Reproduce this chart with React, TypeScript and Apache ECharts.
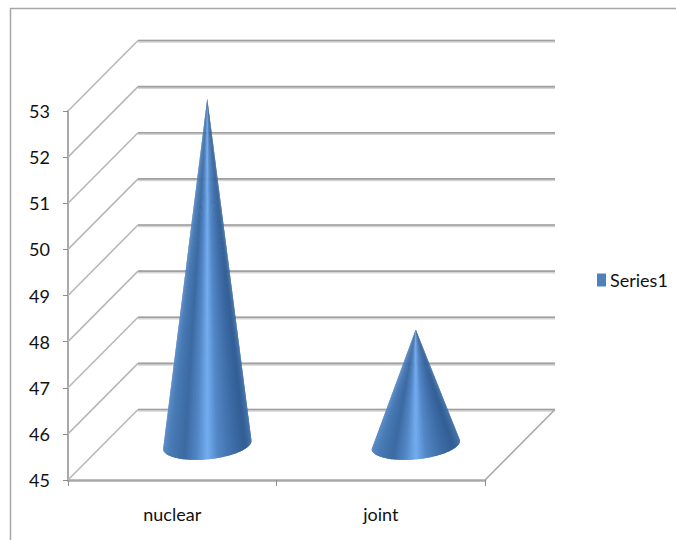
import React, { useEffect, useRef } from "react";
import * as echarts from "echarts";

const categories = ["nuclear", "joint"];
const seriesName = "Series1";
const seriesValues = [52.5, 47.5];
const gridValues = [45, 46, 47, 48, 49, 50, 51, 52, 53];

const DEPTH_X = 70;
const DEPTH_Y = -70.5;
const FONT = "Lato, 'Liberation Sans', sans-serif";
const SHADE: [number, number[]][] = [
  [0, [88, 138, 198]],
  [0.08, [72, 122, 180]],
  [0.24, [60, 106, 162]],
  [0.38, [82, 134, 198]],
  [0.5, [116, 174, 240]],
  [0.62, [82, 134, 198]],
  [0.8, [62, 108, 166]],
  [0.93, [50, 94, 148]],
  [1, [66, 112, 168]],
];

function shade(u: number): string {
  for (let i = 1; i < SHADE.length; i++) {
    if (u <= SHADE[i][0]) {
      const [a, ca] = SHADE[i - 1];
      const [b, cb] = SHADE[i];
      const k = (u - a) / (b - a);
      const c = ca.map((v, j) => Math.round(v + (cb[j] - v) * k));
      return `rgb(${c[0]},${c[1]},${c[2]})`;
    }
  }
  return "rgb(66,112,168)";
}

function renderGrid(params: any, api: any) {
  const v = api.value(1);
  const cs = params.coordSys;
  const p = api.coord([0, v]);
  const left = cs.x;
  const right = cs.x + cs.width;
  const y = p[1];
  const line = (x1: number, y1: number, x2: number, y2: number, stroke: string, w: number) => ({
    type: "line",
    shape: { x1, y1, x2, y2 },
    style: { stroke, lineWidth: w, fill: "none" },
    silent: true,
  });
  const children: any[] = [
    line(left + DEPTH_X, y + DEPTH_Y + 0.8, right + DEPTH_X, y + DEPTH_Y + 0.8, "#d4d4d4", 3),
    line(left + DEPTH_X, y + DEPTH_Y, right + DEPTH_X, y + DEPTH_Y, "#a0a0a0", 1.6),
    line(left, y, left + DEPTH_X, y + DEPTH_Y, "#b8b8b8", 1.6),
  ];
  if (v === gridValues[0]) {
    children.push(line(right, y, right + DEPTH_X, y + DEPTH_Y, "#a8a8a8", 1.6));
  }
  return { type: "group", children };
}

function renderCone(_params: any, api: any) {
  const idx = api.value(0);
  const val = api.value(1);
  const base = api.coord([idx, gridValues[0]]);
  const top = api.coord([idx, val]);
  const band = api.size([1, 0])[0];
  const cx = base[0] + DEPTH_X / 2;
  const cy = base[1] + DEPTH_Y / 2;
  const apex = [top[0] + DEPTH_X / 2, top[1] + DEPTH_Y / 2];
  const a = band * 0.213;
  const b = 14.5;
  const tilt = (-5.8 * Math.PI) / 180;
  const n = 72;
  const pts: number[][] = [];
  for (let i = 0; i <= n; i++) {
    const th = Math.PI - (Math.PI * i) / n;
    const ex = a * Math.cos(th);
    const ey = b * Math.sin(th);
    pts.push([cx + ex * Math.cos(tilt) - ey * Math.sin(tilt), cy + ex * Math.sin(tilt) + ey * Math.cos(tilt)]);
  }
  const x0 = pts[0][0];
  const x1 = pts[n][0];
  const children: any[] = [];
  for (let i = 0; i < n; i++) {
    const col = shade(((pts[i][0] + pts[i + 1][0]) / 2 - x0) / (x1 - x0));
    // each wedge overlaps the next two, painted left to right, so no seams show
    const tail = pts.slice(i, Math.min(i + 3, n + 1));
    children.push({
      type: "polygon",
      shape: { points: [apex, ...tail] },
      style: { fill: col },
      silent: true,
    });
  }
  return { type: "group", children };
}

export default function App() {
  const ref = useRef<HTMLDivElement>(null);
  useEffect(() => {
    const chart = echarts.init(ref.current!, undefined, { renderer: "svg" });
    chart.setOption({
      animation: false,
      backgroundColor: "#ffffff",
      textStyle: { fontFamily: FONT },
      grid: { left: 68, right: 191, top: 111, bottom: 60, containLabel: false },
      xAxis: {
        type: "category",
        data: categories,
        boundaryGap: true,
        axisLine: { lineStyle: { color: "#a8a8a8", width: 2.5 } },
        axisTick: { show: true, length: 6, alignWithLabel: false, lineStyle: { color: "#8c8c8c", width: 1 } },
        axisLabel: { color: "#111111", fontFamily: FONT, fontSize: 18, margin: 25 },
      },
      yAxis: {
        type: "value",
        min: 45,
        max: 53,
        interval: 1,
        splitLine: { show: false },
        axisLine: { show: true, lineStyle: { color: "#a8a8a8", width: 2 } },
        axisTick: { show: true, length: 5, lineStyle: { color: "#8c8c8c", width: 1 } },
        axisLabel: { color: "#111111", fontFamily: FONT, fontSize: 18, margin: 18, padding: [4, 0, 0, 0] },
      },
      legend: {
        data: [seriesName],
        left: 597,
        top: 271,
        icon: "rect",
        itemWidth: 9,
        itemHeight: 13,
        itemGap: 0,
        padding: 0,
        textStyle: { color: "#111111", fontFamily: FONT, fontSize: 18, padding: [0, 0, 0, -1] },
      },
      graphic: [
        {
          type: "polyline",
          silent: true,
          shape: { points: [[10.5, 540], [10.5, 8.5], [676, 8.5]] },
          style: { stroke: "#a6a6a6", lineWidth: 1.5, fill: "none" },
        },
      ],
      series: [
        {
          type: "custom",
          name: "walls",
          renderItem: renderGrid,
          clip: false,
          z: 1,
          silent: true,
          encode: { x: 0, y: 1 },
          data: gridValues.map((v) => [0, v]),
        },
        {
          type: "custom",
          name: seriesName,
          renderItem: renderCone,
          clip: false,
          z: 5,
          silent: true,
          itemStyle: { color: "#4f81bd" },
          encode: { x: 0, y: 1 },
          data: seriesValues.map((v, i) => [i, v]),
        },
      ],
    });
    return () => chart.dispose();
  }, []);
  return <div ref={ref} style={{ position: "fixed", left: 0, top: 0, width: 676, height: 540 }} />;
}
